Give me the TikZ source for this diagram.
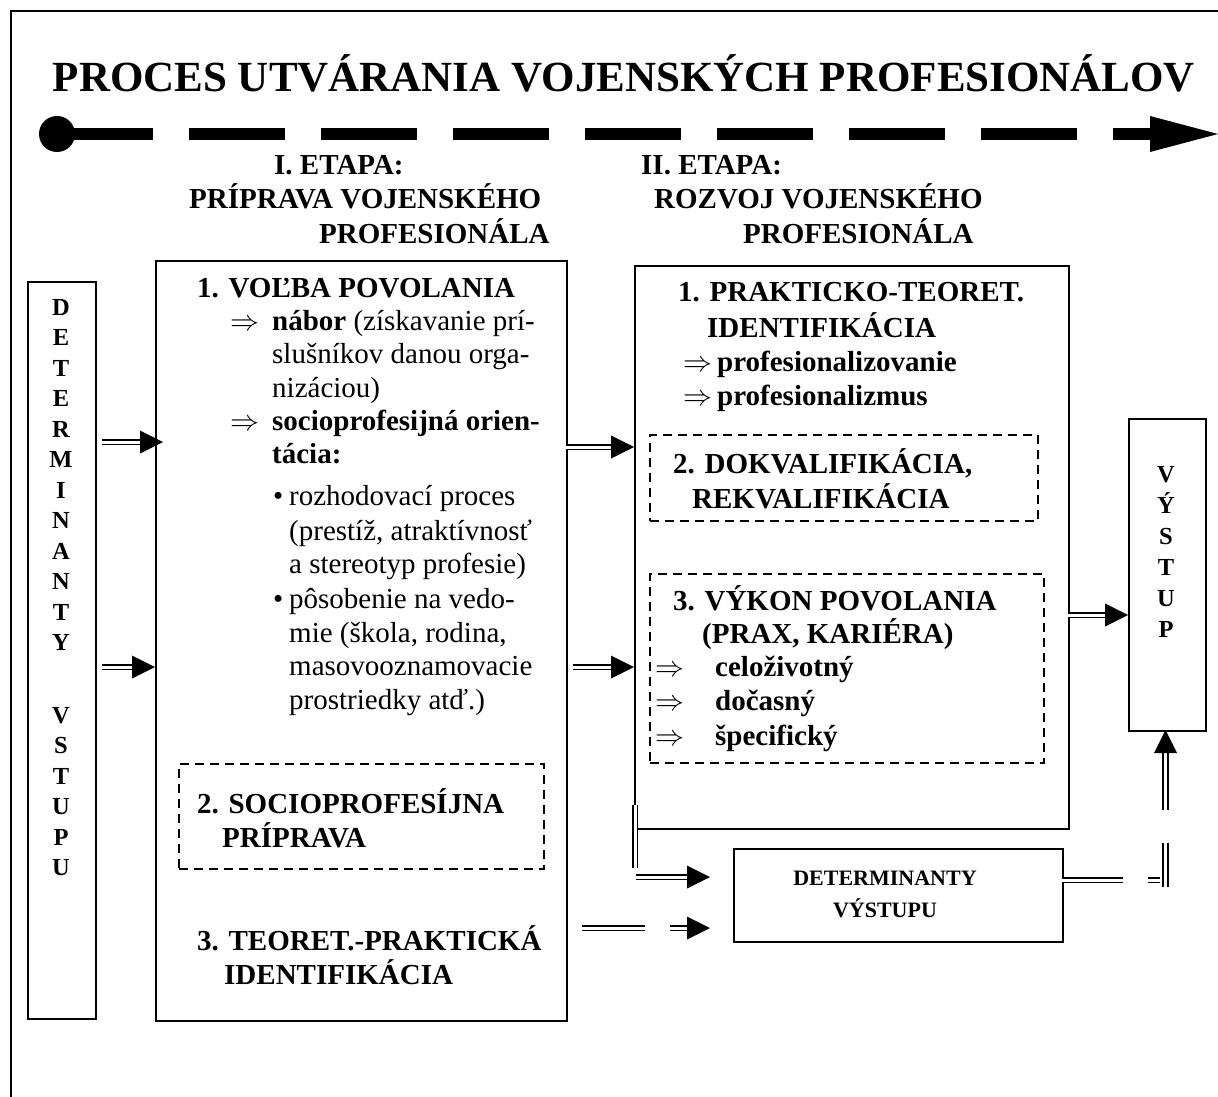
\RequirePackage{fix-cm}
\documentclass[tikz,border=0pt]{standalone}
\usepackage{fontspec}
\setmainfont{Liberation Serif}
\newcommand{\fbody}{\fontsize{29}{34}\selectfont}
\newcommand{\fhead}{\fontsize{29}{34}\selectfont\bfseries}
\newcommand{\ftitle}{\fontsize{43}{50}\selectfont\bfseries}
\newcommand{\fletter}{\fontsize{24.5}{28}\selectfont\bfseries}
\newcommand{\fsmall}{\fontsize{22}{28}\selectfont\bfseries}
\newcommand{\tipR}[1]{\fill (#1) -- ++(-23,-11.5) -- ++(0,23) -- cycle;}
\newcommand{\tipU}[1]{\fill (#1) -- ++(-11.5,23) -- ++(23,0) -- cycle;}
\begin{document}
\begin{tikzpicture}[x=1pt,y=-1pt,
  sbox/.style={draw, line width=1.7pt, inner sep=0pt, anchor=north west},
  dashbox/.style={draw, line width=1.5pt, dash pattern=on 9pt off 6pt, inner sep=0pt, anchor=north west},
  dbl/.style={draw, double, double distance=3pt, line width=1.8pt},
  txt/.style={anchor=base west, inner sep=0pt, font=\fbody},
  hd/.style={anchor=base west, inner sep=0pt, font=\fhead},
  ltr/.style={anchor=base, inner sep=0pt, font=\fletter}]
\useasboundingbox (0,0) rectangle (1218,1097);
\fill[white] (0,0) rectangle (1218,1097);
% outer frame
\draw[line width=2pt] (11,1097) -- (11,11) -- (1218,11);
% title
\node[anchor=base, inner sep=0pt, font=\ftitle] (title) at (624,92) {PROCES UTVÁRANIA VOJENSKÝCH PROFESIONÁLOV};
% timeline
\node[circle, fill, minimum size=36pt, inner sep=0pt] (start) at (57,134) {};
\coordinate (tbase) at (1150,134);
\coordinate (tend) at (1218,134);
\draw[line width=12pt, dash pattern=on 96pt off 36pt] (start.center) -- (tbase);
\fill (tend) -- ++(-68,-18) -- ++(0,36) -- cycle;
% headers
\node[hd] (h1a) at (274,174) {I. ETAPA:};
\node[hd] (h1b) at (189,208) {PRÍPRAVA VOJENSKÉHO};
\node[hd] (h1c) at (319,243) {PROFESIONÁLA};
\node[hd] (h2a) at (641,174) {II. ETAPA:};
\node[hd] (h2b) at (654,208) {ROZVOJ VOJENSKÉHO};
\node[hd] (h2c) at (743,243) {PROFESIONÁLA};
% boxes
\node[sbox, minimum width=68pt, minimum height=737pt] (det) at (27,281) {};
\node[sbox, minimum width=411pt, minimum height=760pt] (prep) at (155,260) {};
\node[sbox, minimum width=434pt, minimum height=563pt] (dev) at (634,265) {};
\node[sbox, minimum width=329pt, minimum height=93pt] (dvb) at (733,848) {};
\node[sbox, minimum width=77pt, minimum height=312pt] (vy) at (1128,418) {};
\node[dashbox, minimum width=365pt, minimum height=105pt] (sp) at (178,763) {};
\node[dashbox, minimum width=388pt, minimum height=86pt] (dk) at (649,434) {};
\node[dashbox, minimum width=394pt, minimum height=189pt] (vk) at (649,573) {};
% vertical letters
\foreach \lt [count=\i] in {D,E,T,E,R,M,I,N,A,N,T,Y}
  \node[ltr] (dla\i) at (61,{315+30.5*(\i-1)}) {\lt};
\foreach \lt [count=\i] in {V,S,T,U,P,U}
  \node[ltr] (dlb\i) at (61,{723+30.5*(\i-1)}) {\lt};
\foreach \lt [count=\i] in {V,Ý,S,T,U,P}
  \node[ltr] (vl\i) at (1166,{482+31*(\i-1)}) {\lt};
% left box text
\node[hd] (l1) at (197,297) {1. VOĽBA POVOLANIA};
\node[txt] (la1) at (230,330) {$\Rightarrow$};
\node[txt] (l2) at (272,330) {\textbf{nábor} (získavanie prí-};
\node[txt] (l3) at (272,363) {slušníkov danou orga-};
\node[txt] (l4) at (272,397) {nizáciou)};
\node[txt] (la2) at (230,430) {$\Rightarrow$};
\node[txt] (l5) at (272,430) {\textbf{socioprofesijná orien-}};
\node[txt] (l6) at (272,463) {\textbf{tácia:}};
\node[txt] (lb1) at (273,505) {•};
\node[txt] (l7) at (289,505) {rozhodovací proces};
\node[txt] (l8) at (289,540) {(prestíž, atraktívnosť};
\node[txt] (l9) at (289,573) {a stereotyp profesie)};
\node[txt] (lb2) at (273,608) {•};
\node[txt] (l10) at (289,608) {pôsobenie na vedo-};
\node[txt] (l11) at (289,642) {mie (škola, rodina,};
\node[txt] (l12) at (289,675) {masovooznamovacie};
\node[txt] (l13) at (289,709) {prostriedky atď.)};
\node[hd] (s1) at (197,813) {2. SOCIOPROFESÍJNA};
\node[hd] (s2) at (222,847) {PRÍPRAVA};
\node[hd] (t1) at (197,950) {3. TEORET.-PRAKTICKÁ};
\node[hd] (t2) at (224,984) {IDENTIFIKÁCIA};
% right box text
\node[hd] (r1) at (678,301) {1. PRAKTICKO-TEORET.};
\node[hd] (r2) at (707,337) {IDENTIFIKÁCIA};
\node[txt] (ra1) at (683,371) {$\Rightarrow$};
\node[hd] (r3) at (717,371) {profesionalizovanie};
\node[txt] (ra2) at (683,405) {$\Rightarrow$};
\node[hd] (r4) at (717,405) {profesionalizmus};
\node[hd] (k1) at (673,473) {2. DOKVALIFIKÁCIA,};
\node[hd] (k2) at (692,508) {REKVALIFIKÁCIA};
\node[hd] (v1) at (673,610) {3. VÝKON POVOLANIA};
\node[hd] (v2) at (702,643) {(PRAX, KARIÉRA)};
\node[txt] (va1) at (655,676) {$\Rightarrow$};
\node[hd] (v3) at (715,676) {celoživotný};
\node[txt] (va2) at (655,710) {$\Rightarrow$};
\node[hd] (v4) at (715,710) {dočasný};
\node[txt] (va3) at (655,745) {$\Rightarrow$};
\node[hd] (v5) at (715,745) {špecifický};
% DV text
\node[anchor=base, inner sep=0pt, font=\fsmall] (dvt1) at (885,885) {DETERMINANTY};
\node[anchor=base, inner sep=0pt, font=\fsmall] (dvt2) at (885,917) {VÝSTUPU};
% connectors
\coordinate (a1s) at (102,442); \coordinate (a1e) at (163,442);
\draw[dbl, shorten >=20pt] (a1s) -- (a1e); \tipR{a1e}
\coordinate (a2s) at (102,667); \coordinate (a2e) at (155,667);
\draw[dbl, shorten >=20pt] (a2s) -- (a2e); \tipR{a2e}
\coordinate (a3s) at (566,447); \coordinate (a3e) at (634,447);
\draw[dbl, shorten >=20pt] (a3s) -- (a3e); \tipR{a3e}
\coordinate (a4s) at (573,667); \coordinate (a4e) at (634,667);
\draw[dbl, shorten >=20pt] (a4s) -- (a4e); \tipR{a4e}
\coordinate (a5s) at (1068,615); \coordinate (a5e) at (1128,615);
\draw[dbl, shorten >=20pt] (a5s) -- (a5e); \tipR{a5e}
\coordinate (a6a) at (635,805); \coordinate (a6b) at (635,868);
\draw[dbl] (a6a) -- (a6b);
\coordinate (a6s) at (636,877); \coordinate (a6e) at (710,877);
\draw[dbl, shorten >=20pt] (a6s) -- (a6e); \tipR{a6e}
\coordinate (a7a) at (582,928); \coordinate (a7b) at (645,928);
\draw[dbl] (a7a) -- (a7b);
\coordinate (a7s) at (670,928); \coordinate (a7e) at (710,928);
\draw[dbl, shorten >=20pt] (a7s) -- (a7e); \tipR{a7e}
\coordinate (a8a) at (1062,880); \coordinate (a8b) at (1123,880);
\draw[dbl] (a8a) -- (a8b);
\coordinate (a8c) at (1148,880); \coordinate (a8d) at (1160,880);
\draw[dbl] (a8c) -- (a8d);
\coordinate (a8e) at (1165.5,887); \coordinate (a8f) at (1165.5,843);
\draw[dbl] (a8e) -- (a8f);
\coordinate (a8s) at (1165.5,810); \coordinate (a8t) at (1165.5,730);
\draw[dbl, shorten >=20pt] (a8s) -- (a8t); \tipU{a8t}
\end{tikzpicture}
\end{document}
